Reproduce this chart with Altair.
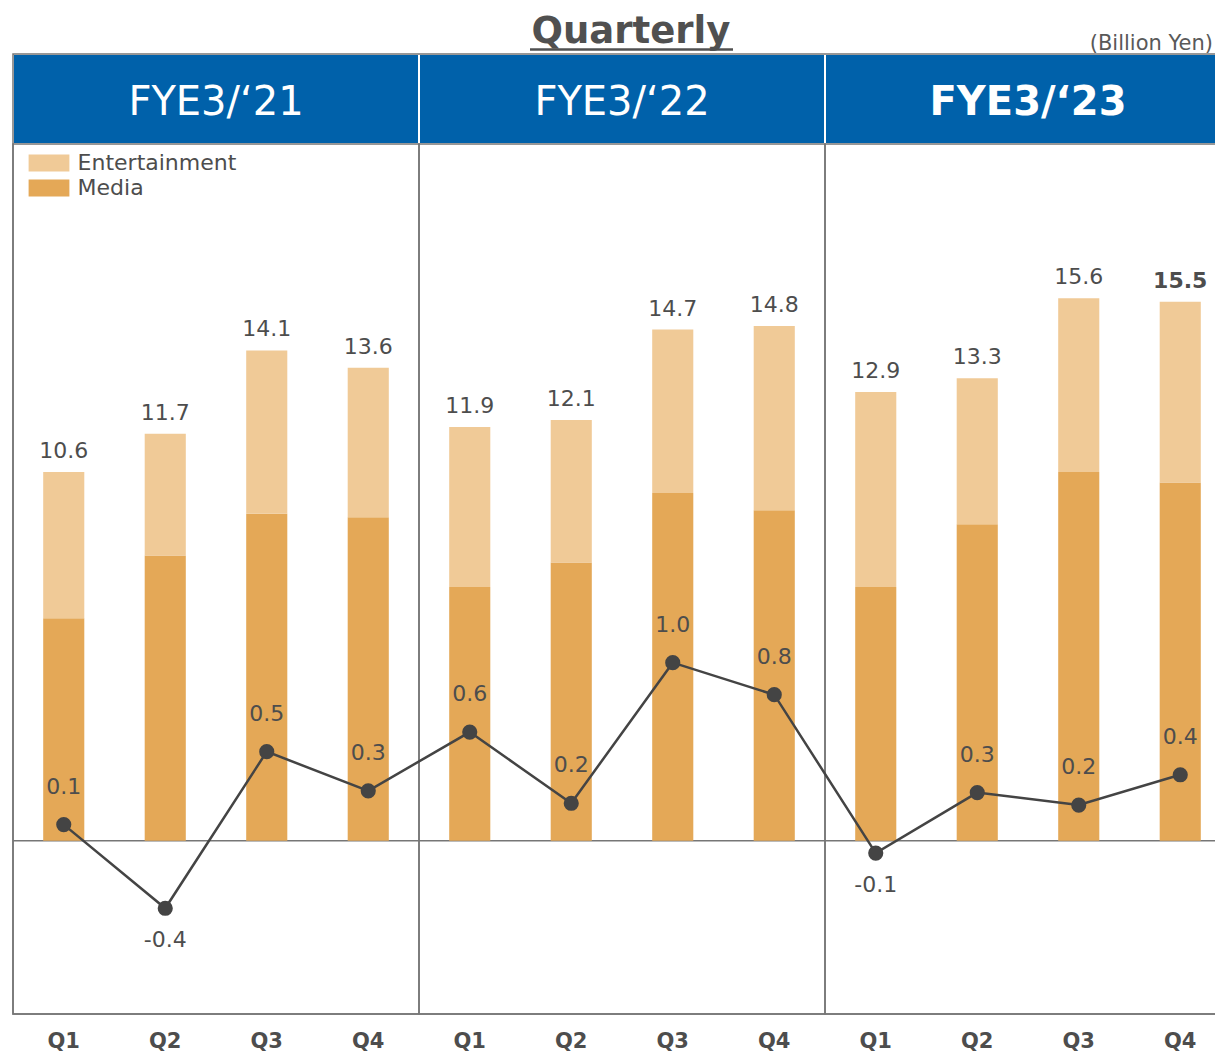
import altair as alt
import pandas as pd

# ---------------- data ----------------
years = ["FYE3/‘21", "FYE3/‘22", "FYE3/‘23"]
quarters = ["Q1", "Q2", "Q3", "Q4"]
series = ["Entertainment", "Media"]
series_colors = ["#F0CA97", "#E4A857"]

totals = [10.6, 11.7, 14.1, 13.6, 11.9, 12.1, 14.7, 14.8, 12.9, 13.3, 15.6, 15.5]
media = [6.4, 8.2, 9.4, 9.3, 7.3, 8.0, 10.0, 9.5, 7.3, 9.1, 10.6, 10.3]
op_income = [0.09, -0.38, 0.50, 0.28, 0.61, 0.21, 1.00, 0.82, -0.07, 0.27, 0.20, 0.37]

title_text = "Quarterly"
unit_text = "(Billion Yen)"

# ---------------- styling ----------------
FONT = "DejaVu Sans"
TXT = "#4D4D4D"
LINE = "#444444"
BLUE = "#0061AA"
GRID = "#767676"
W, H = 1202, 1001      # plot area (the page edge clips the last panel, as in the reference)
XR = 1218              # pixel extent of the quarter / year bands

keys = [f"{y}|{q}" for y in years for q in quarters]

bar_rows = []
for i, k in enumerate(keys):
    bar_rows.append({"key": k, "segment": "Media", "value": media[i], "order": 0})
    bar_rows.append({"key": k, "segment": "Entertainment",
                     "value": round(totals[i] - media[i], 2), "order": 1})
bars_df = pd.DataFrame(bar_rows)
tot_df = pd.DataFrame({"key": keys, "total": totals,
                       "bold": [k == keys[-1] for k in keys]})
op_df = pd.DataFrame({"key": keys, "op": op_income})
year_df = pd.DataFrame({"year": years, "bold": [y == years[-1] for y in years]})
one = pd.DataFrame({"a": [0]})
zero_df = pd.DataFrame({"v": [0.0]})

bar_scale = alt.Scale(domain=[-4.98, 23.80], nice=False, zero=False)
op_scale = alt.Scale(domain=[-0.974, 4.650], nice=False, zero=False)

x_q = alt.X("key:N", sort=keys,
            scale=alt.Scale(range=[0, XR], paddingInner=0.595, paddingOuter=0.2975),
            axis=alt.Axis(title=None, domain=False, ticks=False, labelAngle=0,
                          labelFontSize=21, labelFontWeight="bold", labelColor=TXT,
                          labelFont=FONT, labelPadding=16,
                          labelExpr="split(datum.value, '|')[1]"))
x_y = alt.X("year:N", sort=years,
            scale=alt.Scale(range=[0, XR], paddingInner=0, paddingOuter=0), axis=None)

# ---------------- frame / header (year level) ----------------
header = alt.Chart(year_df).mark_rect(fill=BLUE, stroke="white", strokeWidth=2).encode(
    x=x_y, y=alt.value(41), y2=alt.value(131))
panels = alt.Chart(year_df).mark_rect(fillOpacity=0, stroke=GRID, strokeWidth=1.5).encode(
    x=x_y, y=alt.value(131), y2=alt.value(1001))
outline = alt.Chart(one).mark_rect(fillOpacity=0, stroke=GRID, strokeWidth=1.5).encode(
    x=alt.value(0), x2=alt.value(XR), y=alt.value(41), y2=alt.value(1001))
head_txt = alt.Chart(year_df).transform_filter("!datum.bold").mark_text(
    fontSize=40, color="white", font=FONT, baseline="alphabetic").encode(
    x=x_y, y=alt.value(102), text="year:N")
head_txt_b = alt.Chart(year_df).transform_filter("datum.bold").mark_text(
    fontSize=40, color="white", font=FONT, fontWeight="bold", baseline="alphabetic").encode(
    x=x_y, y=alt.value(102), text="year:N")
title = alt.Chart(one).mark_text(text=title_text, fontSize=37, fontWeight="bold", color="#505050",
                                 font=FONT, baseline="alphabetic", align="center").encode(
    x=alt.value(618), y=alt.value(30))
underline = alt.Chart(one).mark_rule(color="#505050", strokeWidth=2.5).encode(
    x=alt.value(517), x2=alt.value(720), y=alt.value(36.5))
unit = alt.Chart(one).mark_text(text=unit_text, fontSize=21, color="#595959", font=FONT,
                                baseline="alphabetic", align="right").encode(
    x=alt.value(1200), y=alt.value(37))

frame = alt.layer(header, panels, outline, head_txt, head_txt_b, title, underline, unit)

# ---------------- data layers (quarter level) ----------------
zero_rule = alt.Chart(zero_df).mark_rule(color=GRID, strokeWidth=1.5).encode(
    y=alt.Y("v:Q", scale=bar_scale, axis=None))
bars = alt.Chart(bars_df).mark_bar(opacity=1).encode(
    x=x_q,
    y=alt.Y("value:Q", stack="zero", scale=bar_scale, axis=None),
    color=alt.Color("segment:N", scale=alt.Scale(domain=series, range=series_colors),
                    legend=alt.Legend(title=None, orient="none", legendX=25, legendY=139,
                                      padding=0, symbolType="M-2.4,-1H2.4V1H-2.4Z",
                                      symbolSize=289, symbolStrokeWidth=0, symbolOpacity=1,
                                      labelFontSize=22, labelFont=FONT, labelColor=TXT,
                                      labelOffset=17.6, rowPadding=3)),
    order=alt.Order("order:Q"))
tot_txt = alt.Chart(tot_df).transform_filter("!datum.bold").mark_text(
    dy=-14, fontSize=22, color=TXT, font=FONT, baseline="alphabetic").encode(
    x=x_q, y=alt.Y("total:Q", scale=bar_scale, axis=None), text=alt.Text("total:Q", format=".1f"))
tot_txt_b = alt.Chart(tot_df).transform_filter("datum.bold").mark_text(
    dy=-14, fontSize=22, color=TXT, font=FONT, fontWeight="bold", baseline="alphabetic").encode(
    x=x_q, y=alt.Y("total:Q", scale=bar_scale, axis=None), text=alt.Text("total:Q", format=".1f"))
line = alt.Chart(op_df).mark_line(color=LINE, strokeWidth=2.5).encode(
    x=x_q, y=alt.Y("op:Q", scale=op_scale, axis=None))
pts = alt.Chart(op_df).mark_circle(size=230, color=LINE, opacity=1).encode(
    x=x_q, y=alt.Y("op:Q", scale=op_scale, axis=None))
lbl_expr = "replace(format(datum.op, '.1f'), '\u2212', '-')"
op_pos = alt.Chart(op_df).transform_filter("datum.op >= 0").transform_calculate(
    lbl=lbl_expr).mark_text(
    dy=-31, fontSize=22, color=TXT, font=FONT, baseline="alphabetic").encode(
    x=x_q, y=alt.Y("op:Q", scale=op_scale, axis=None), text="lbl:N")
op_neg = alt.Chart(op_df).transform_filter("datum.op < 0").transform_calculate(
    lbl=lbl_expr).mark_text(
    dy=39, fontSize=22, color=TXT, font=FONT, baseline="alphabetic").encode(
    x=x_q, y=alt.Y("op:Q", scale=op_scale, axis=None), text="lbl:N")

plot = alt.layer(zero_rule, bars, tot_txt, tot_txt_b, line, pts, op_pos, op_neg).resolve_scale(
    y="independent")

chart = alt.layer(frame, plot).resolve_scale(x="independent", y="independent").properties(
    width=W, height=H,
    padding={"left": 5, "top": 5, "right": 0, "bottom": 38},
    autosize=alt.AutoSizeParams(type="none"),
).configure(font=FONT).configure_view(stroke=None)

chart.save("out.html", embed_options={"renderer": "svg", "actions": False})
